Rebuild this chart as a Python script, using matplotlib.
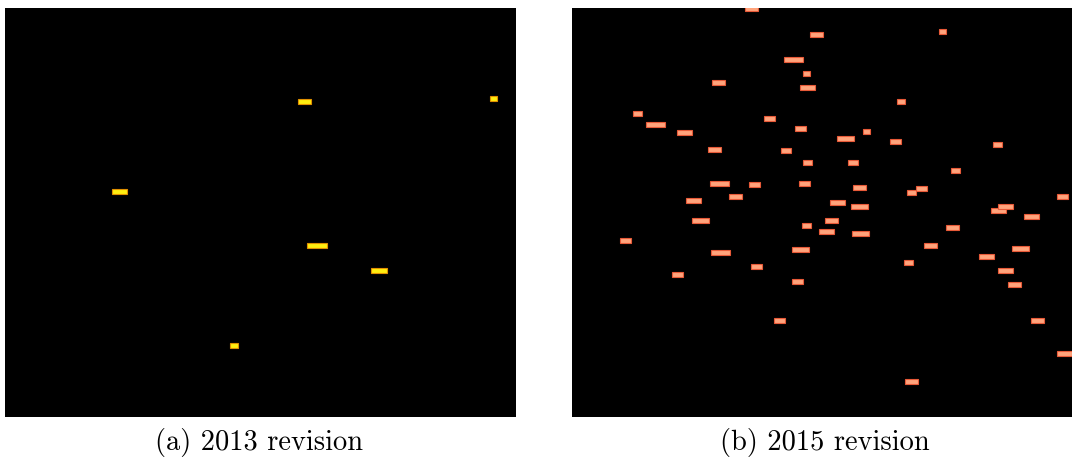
import matplotlib.pyplot as plt
import matplotlib as mpl

mpl.rcParams['axes.formatter.use_mathtext'] = True

# 面板 (a) 2013：标签中心 x, y（像素坐标）与宽度
a_x = [304, 493, 119, 317, 379, 234]
a_y = [102, 99, 192, 246, 271, 346]
a_w = [13, 7, 15, 20, 16, 8]

# 面板 (b) 2015
b_x = [751, 816, 942, 793, 806, 718, 807, 901, 637, 655, 684, 769, 800, 866,
       845, 895, 997, 714, 786, 807, 853, 955, 719, 754, 804, 859, 921, 911,
       1062, 693, 735, 837, 859, 998, 1005, 1031, 700, 831, 806, 952, 826, 860,
       625, 720, 800, 930, 908, 986, 1020, 756, 677, 797, 1005, 1014, 779,
       1037, 1064, 911]
b_y = [9, 35, 32, 60, 74, 83, 88, 102, 114, 125, 133, 119, 129, 132,
       139, 142, 145, 150, 151, 163, 163, 171, 184, 185, 184, 188, 189, 193,
       197, 201, 197, 203, 207, 211, 207, 217, 221, 221, 226, 228, 232, 234,
       241, 253, 250, 246, 263, 257, 249, 267, 275, 282, 271, 285, 321,
       321, 354, 382]
b_w = [13, 13, 7, 19, 7, 13, 15, 8, 9, 19, 15, 11, 11, 7,
       17, 11, 9, 13, 10, 9, 10, 9, 19, 11, 11, 13, 11, 9,
       11, 15, 13, 15, 17, 15, 15, 15, 17, 13, 9, 13, 15, 17,
       11, 19, 17, 13, 9, 15, 17, 11, 11, 11, 15, 13, 11,
       13, 15, 13]

captions = ['(a) 2013 revision', '(b) 2015 revision']


def draw_panel(ax, xs, ys, ws, x0, face, edge):
    left = [x - x0 - w / 2 for x, w in zip(xs, ws)]
    yy = [y - 9 + 0.5 for y in ys]
    ax.barh(yy, ws, left=left, height=4.5, color=face, edgecolor=edge, linewidth=0.8)
    ax.set_facecolor('black')
    ax.set_ylim(409, 0)
    ax.set_xticks([])
    ax.set_yticks([])
    for s in ax.spines.values():
        s.set_visible(False)


fig = plt.figure(figsize=(10.72, 4.64), dpi=100)
W, H = 1072, 464

ax1 = fig.add_axes([5 / W, 1 - 418 / H, 511 / W, 409 / H])
draw_panel(ax1, a_x, a_y, a_w, 5, '#ffee10', '#e09000')
ax1.set_xlim(0, 511)

ax2 = fig.add_axes([572 / W, 1 - 418 / H, 500 / W, 409 / H])
draw_panel(ax2, b_x, b_y, b_w, 572, '#ffa47c', '#e85a38')
ax2.set_xlim(0, 500)

fig.text(259 / W, 1 - 443 / H, captions[0], ha='center', va='center',
         fontsize=20.5, family='cmr10')
fig.text(825 / W, 1 - 443 / H, captions[1], ha='center', va='center',
         fontsize=20.5, family='cmr10')

fig.savefig('out.png', dpi=100)
